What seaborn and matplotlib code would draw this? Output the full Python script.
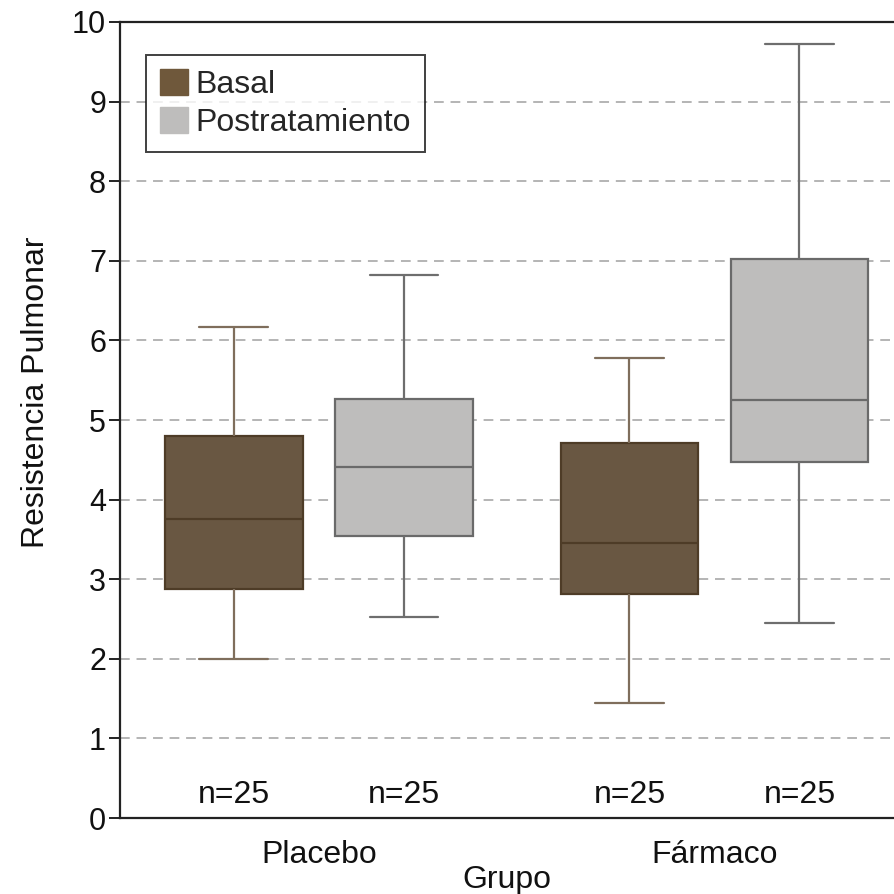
import numpy as np
import pandas as pd
import seaborn as sns
import matplotlib
matplotlib.use("Agg")
import matplotlib.pyplot as plt
from matplotlib.patches import Patch

# Five-number summaries (min, Q1, median, Q3, max) of pulmonary resistance
groups = ["Placebo", "Fármaco"]
phases = ["Basal", "Postratamiento"]
basal_placebo = [2.00, 2.88, 3.76, 4.80, 6.17]
post_placebo = [2.53, 3.54, 4.41, 5.26, 6.82]
basal_farmaco = [1.44, 2.81, 3.45, 4.71, 5.78]
post_farmaco = [2.45, 4.47, 5.25, 7.02, 9.72]
n_labels = ["n=25", "n=25", "n=25", "n=25"]
yticks = list(range(0, 11))

records = []
for grp, phase, vals in [
    ("Placebo", "Basal", basal_placebo),
    ("Placebo", "Postratamiento", post_placebo),
    ("Fármaco", "Basal", basal_farmaco),
    ("Fármaco", "Postratamiento", post_farmaco),
]:
    for v in vals:
        records.append({"Grupo": grp, "Fase": phase, "Valor": v})
df = pd.DataFrame(records)

fill = {"Basal": "#6F583B", "Postratamiento": "#BEBDBC"}
edge = {"Basal": "#4E3C27", "Postratamiento": "#6A6A6A"}
whisk = {"Basal": "#7F6E5C", "Postratamiento": "#6E6E6E"}

sns.set_style("white")
plt.rcParams["font.family"] = ["Liberation Sans", "DejaVu Sans"]

fig = plt.figure(figsize=(8.94, 8.94), dpi=100)
W, H = 894, 894
ax = fig.add_axes([120 / W, 1 - 818 / H, 774 / W, 796 / H])

width, gap = 0.86, 0.19
sns.boxplot(
    data=df, x="Grupo", y="Valor", hue="Fase", order=groups, hue_order=phases,
    palette=fill, width=width, gap=gap, whis=(0, 100), showfliers=False,
    linewidth=1.6, ax=ax, legend=False, zorder=3,
)

# recolour box outlines, whiskers, caps and medians per phase
for p in ax.patches:
    verts = p.get_path().vertices
    cx = np.mean(verts[:, 0])
    phase = "Basal" if cx < round(cx) else "Postratamiento"
    p.set_edgecolor(edge[phase])
    p.set_zorder(3)
for ln in ax.lines:
    xd = np.asarray(ln.get_xdata(), dtype=float)
    yd = np.asarray(ln.get_ydata(), dtype=float)
    if xd.size == 0:
        continue
    cx = xd.mean()
    phase = "Basal" if cx < round(cx) else "Postratamiento"
    is_vertical = np.allclose(xd, xd[0]) and not np.allclose(yd, yd[0])
    ln.set_zorder(4)
    if is_vertical:
        ln.set_color(whisk[phase])
    else:
        # caps are narrower than the box, medians span the box
        span = xd.max() - xd.min()
        ln.set_color(edge[phase] if span > 0.3 else whisk[phase])

# n labels under each box
offset = width / 4
for i, grp in enumerate(groups):
    for j, phase in enumerate(phases):
        x = i + (offset if j else -offset)
        ax.text(x, 0.29, n_labels[2 * i + j], ha="center", va="center",
                fontsize=23, color="#111111")

ax.set_ylim(0, 10)
ax.set_xlim(-0.503, 1.454)
ax.set_yticks(yticks)
ax.set_yticklabels([str(t) for t in yticks])
ax.yaxis.grid(True, linestyle=(0, (5, 3.5)), color="#B4B4B4", linewidth=1.4, zorder=0)
ax.xaxis.grid(False)
ax.set_axisbelow(True)

for side in ["left", "bottom", "top"]:
    ax.spines[side].set_visible(True)
    ax.spines[side].set_color("#222222")
    ax.spines[side].set_linewidth(1.6)
ax.spines["right"].set_visible(False)

ax.tick_params(axis="y", which="major", left=True, length=8, width=1.4,
               color="#222222", labelsize=22, pad=2, labelcolor="#111111")
ax.tick_params(axis="x", bottom=False, labelsize=23, pad=12, labelcolor="#111111")

ax.set_xlabel("Grupo", fontsize=23, color="#111111")
ax.xaxis.set_label_coords(0.5, -0.059)
ax.set_ylabel("Resistencia Pulmonar", fontsize=23, color="#111111")
ax.yaxis.set_label_coords(-0.089, 0.535)

handles = [Patch(facecolor=fill[p], edgecolor=fill[p], label=p) for p in phases]
leg = ax.legend(
    handles=handles, loc="upper left", bbox_to_anchor=(26 / 774, 1 - 33 / 796),
    fontsize=23, frameon=True, fancybox=False, handlelength=0.85, handleheight=0.85,
    handletextpad=0.25, borderpad=0.45, labelspacing=0.22, borderaxespad=0,
)
leg.get_frame().set_edgecolor("#111111")
leg.get_frame().set_linewidth(1.4)
leg.set_zorder(5)

fig.savefig("out.png", dpi=100)
